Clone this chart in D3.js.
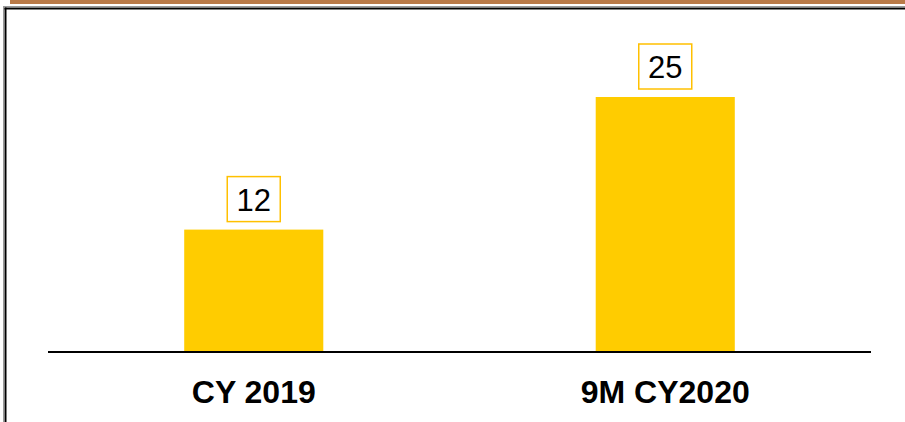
<!DOCTYPE html>
<html>
<head>
<meta charset="utf-8">
<script src="https://cdn.jsdelivr.net/npm/d3@7"></script>
<style>
  body { margin: 0; background: #fff; }
  svg { display: block; }
</style>
</head>
<body>
<svg width="905" height="422"></svg>
<script>
var categories = ["CY 2019", "9M CY2020"];
var values = [12, 25];
var valueLabels = ["12", "25"];

var svg = d3.select("svg"),
    width = 905,
    height = 422,
    baseY = 352,
    topY = 97;

// frame decorations
svg.append("rect").attr("x", 10).attr("y", 0).attr("width", width - 10).attr("height", 4).attr("fill", "#B97A48");
svg.append("line").attr("x1", 4).attr("x2", width).attr("y1", 6.5).attr("y2", 6.5).attr("stroke", "#9a9a9a").attr("stroke-width", 1);
svg.append("line").attr("x1", 4.5).attr("x2", width).attr("y1", 8.5).attr("y2", 8.5).attr("stroke", "#000").attr("stroke-width", 2);
svg.append("line").attr("x1", 5.5).attr("x2", 5.5).attr("y1", 7.5).attr("y2", height).attr("stroke", "#000").attr("stroke-width", 2);
svg.append("line").attr("x1", 3.5).attr("x2", 3.5).attr("y1", 6).attr("y2", height).attr("stroke", "#9a9a9a").attr("stroke-width", 1);

var x = d3.scaleBand()
    .domain(categories)
    .range([48, 871])
    .paddingInner(0.662)
    .paddingOuter(0.331);

var y = d3.scaleLinear()
    .domain([0, 25])
    .range([baseY, topY]);

svg.selectAll("rect.bar")
    .data(values)
  .enter()
  .append("rect")
    .attr("class", "bar")
    .attr("x", function(d, i) { return x(categories[i]); })
    .attr("y", function(d) { return y(d); })
    .attr("width", x.bandwidth())
    .attr("height", function(d) { return baseY - y(d); })
    .attr("fill", "#FFCC00");

// baseline axis (no ticks)
var axis = svg.append("g")
    .attr("transform", "translate(0," + baseY + ")")
    .call(d3.axisBottom(x).tickSize(0).tickPadding(0));
axis.select(".domain").attr("stroke", "#000").attr("stroke-width", 2).attr("d", "M48,0H871");
axis.selectAll("text")
    .attr("y", 51)
    .attr("dy", 0)
    .attr("font-family", "Liberation Sans, Arial, sans-serif")
    .attr("font-size", 32)
    .attr("font-weight", "bold")
    .attr("fill", "#000");

// value labels with boxes
var lab = svg.selectAll("g.lab")
    .data(values)
  .enter()
  .append("g")
    .attr("class", "lab")
    .attr("transform", function(d, i) {
      return "translate(" + (x(categories[i]) + x.bandwidth() / 2) + "," + y(d) + ")";
    });
lab.append("rect")
    .attr("x", -26.5)
    .attr("y", -53)
    .attr("width", 53)
    .attr("height", 45)
    .attr("fill", "#fff")
    .attr("stroke", "#FFC000")
    .attr("stroke-width", 1.5);
lab.append("text")
    .attr("text-anchor", "middle")
    .attr("y", -19)
    .attr("font-family", "Liberation Sans, Arial, sans-serif")
    .attr("font-size", 31)
    .attr("fill", "#000")
    .text(function(d, i) { return valueLabels[i]; });
</script>
</body>
</html>
